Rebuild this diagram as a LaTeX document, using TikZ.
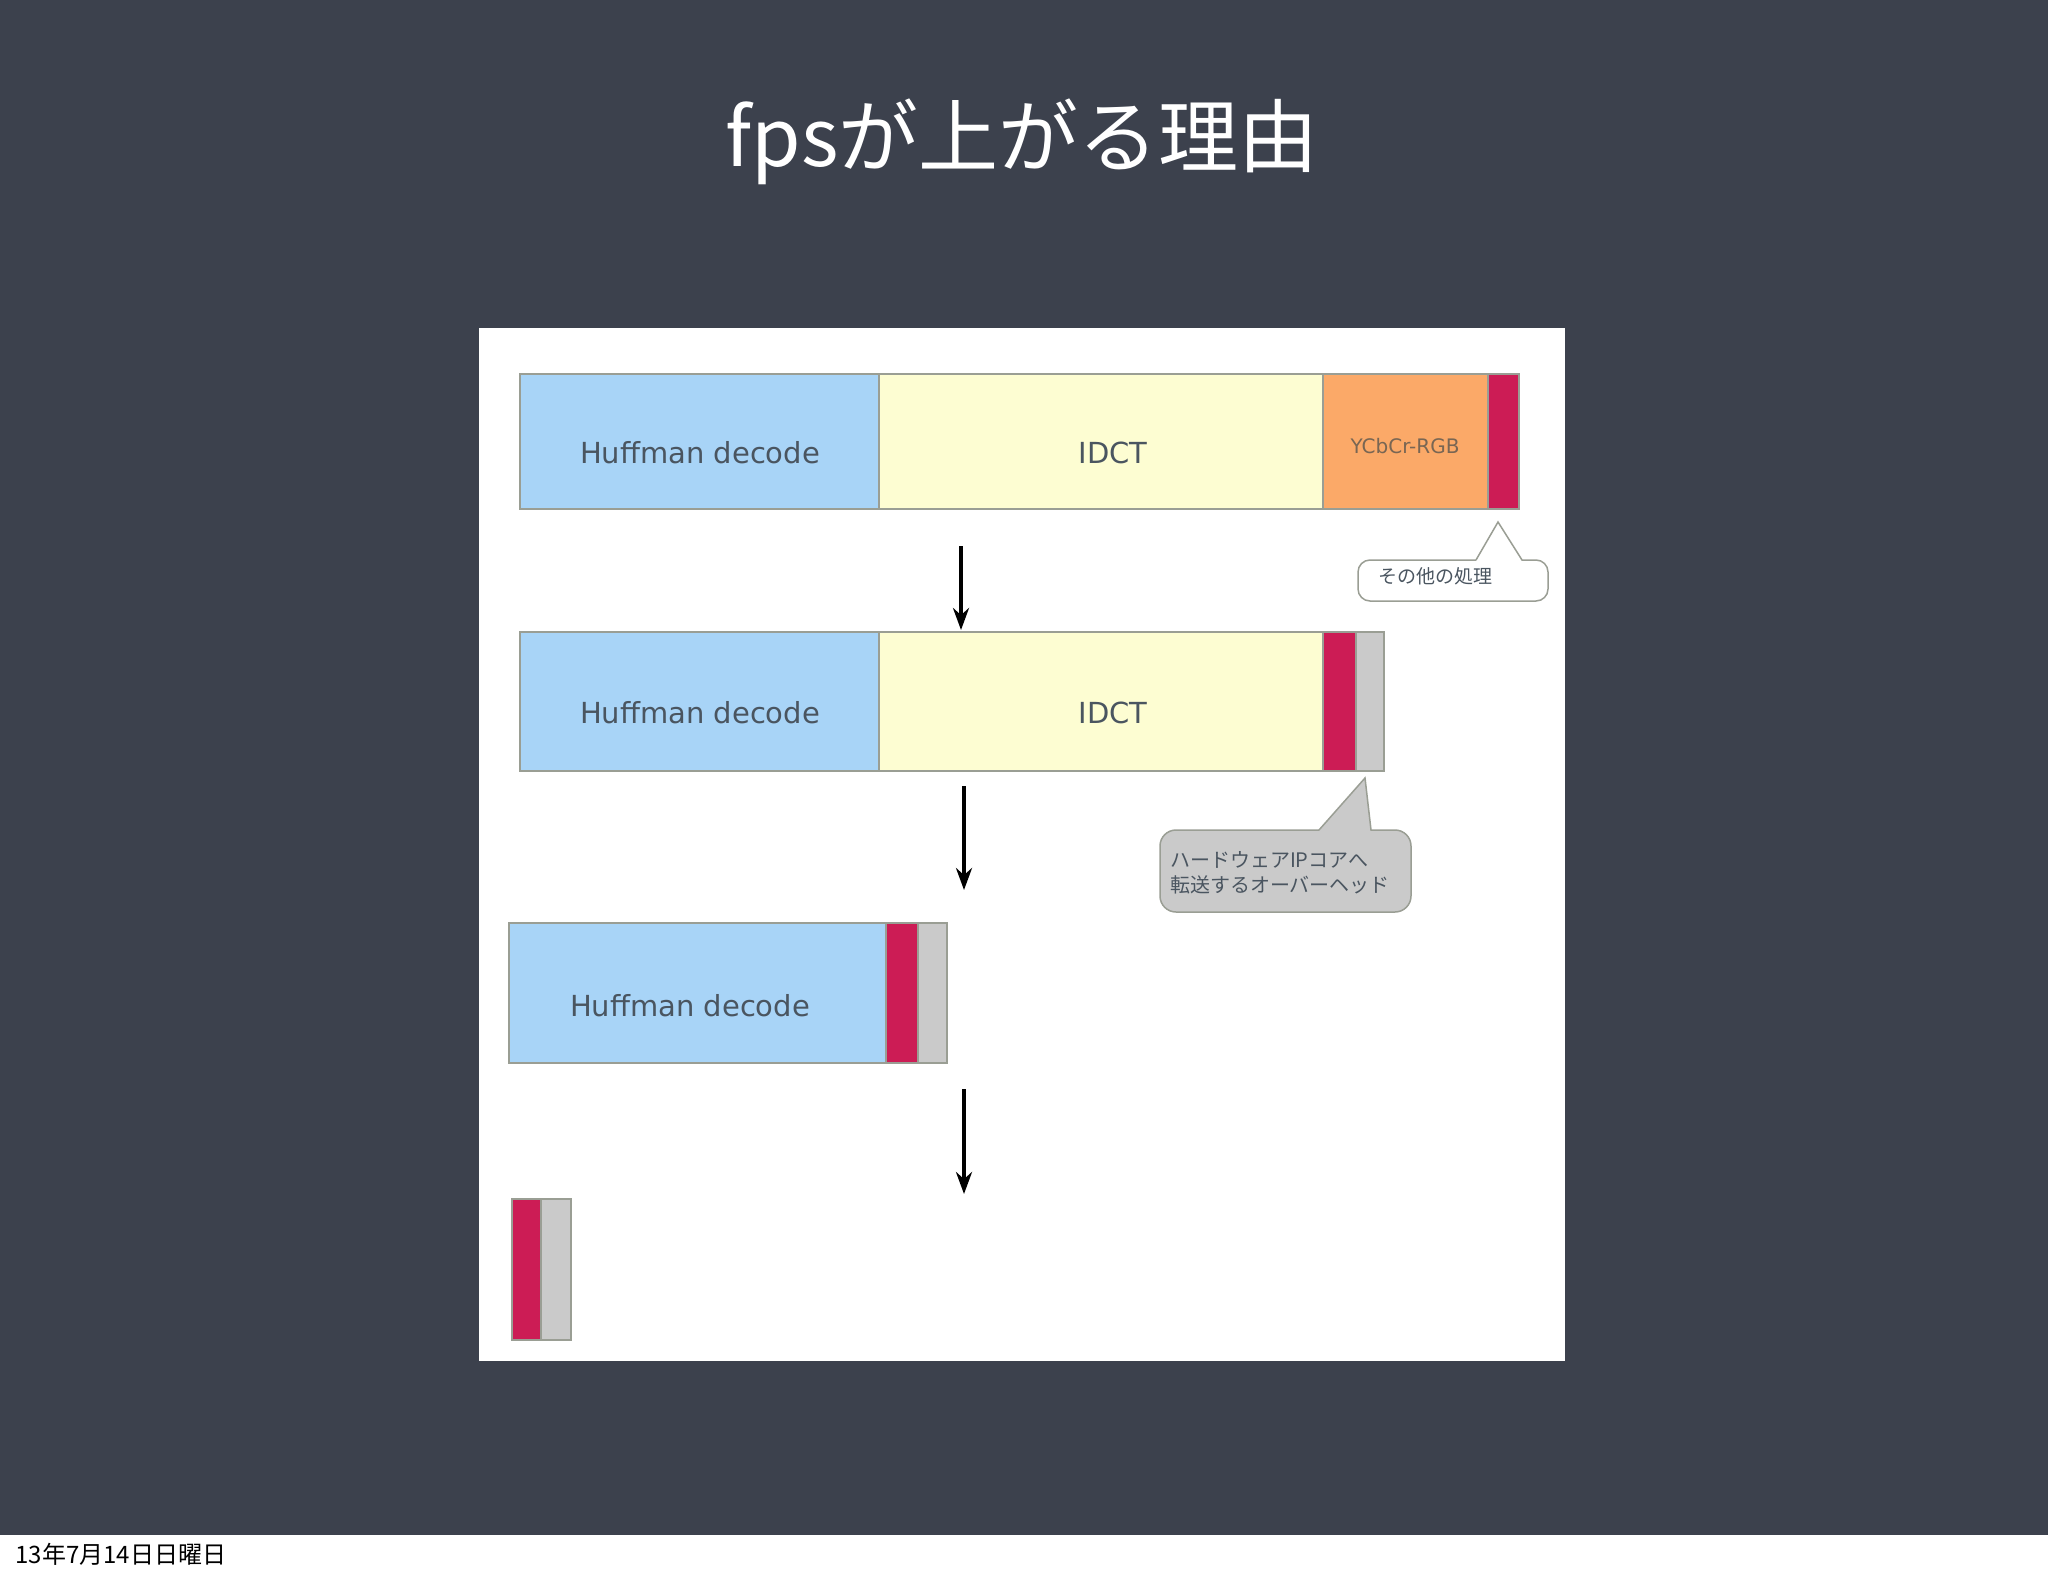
\documentclass[tikz,border=0pt]{standalone}
\usepackage{fontspec}
\usetikzlibrary{arrows.meta}
\setmainfont{DejaVu Sans}
\newfontfamily\cjk{Noto Sans CJK JP}
\definecolor{slate}{HTML}{3C414D}
\definecolor{hblue}{HTML}{A8D4F7}
\definecolor{hyel}{HTML}{FDFDD2}
\definecolor{horange}{HTML}{FBA968}
\definecolor{hred}{HTML}{CC1C55}
\definecolor{hgrey}{HTML}{CACACA}
\definecolor{edge}{HTML}{9A9E94}
\definecolor{txt}{HTML}{4A5560}
\begin{document}
\begin{tikzpicture}[x=1pt,y=-1pt,
  seg/.style={draw=edge,line width=1.5pt},
  lbl/.style={text=txt,font=\fontsize{29}{30}\selectfont},
  arr/.style={line width=4pt,-{Stealth[length=22pt,width=16pt]}},
  call/.style={draw=edge,line width=1.5pt}]
\useasboundingbox (0,0) rectangle (2048,1576);
\fill[slate] (0,0) rectangle (2048,1535);
\fill[white] (0,1535) rectangle (2048,1576);
\node[text=white,font=\cjk\fontsize{80}{82}\selectfont] (title) at (1022,142) {fpsが上がる理由};
\fill[white] (479,328) rectangle (1565,1361);
% bar 1
\draw[seg,fill=hblue] (520,374) rectangle (879,509);
\draw[seg,fill=hyel] (879,374) rectangle (1323,509);
\draw[seg,fill=horange] (1323,374) rectangle (1488,509);
\draw[seg,fill=hred] (1488,374) rectangle (1519,509);
\node[lbl] (h1) at (700,453) {Huffman decode};
\node[lbl] (i1) at (1113,453) {IDCT};
\node[text=txt!60!brown,font=\fontsize{20}{22}\selectfont] (y1) at (1405,446) {YCbCr-RGB};
% callout 1
\draw[call,fill=white] (1476,560) -- (1498,522) -- (1522,560)
  [rounded corners=12pt] -- (1548,560) -- (1548,601) -- (1358,601) -- (1358,560) -- (1476,560);
\node[text=txt,font=\cjk\fontsize{19}{20}\selectfont] (c1) at (1435,576) {その他の処理};
% arrow 1
\coordinate (a1s) at (961,546); \coordinate (a1e) at (961,630);
\draw[arr] (a1s) -- (a1e);
% bar 2
\draw[seg,fill=hblue] (520,632) rectangle (879,771);
\draw[seg,fill=hyel] (879,632) rectangle (1323,771);
\draw[seg,fill=hred] (1323,632) rectangle (1356,771);
\draw[seg,fill=hgrey] (1356,632) rectangle (1384,771);
\node[lbl] (h2) at (700,713) {Huffman decode};
\node[lbl] (i2) at (1113,713) {IDCT};
% callout 2
\draw[call,fill=hgrey] (1319,830) -- (1365,778) -- (1371,830)
  [rounded corners=16pt] -- (1411,830) -- (1411,912) -- (1160,912) -- (1160,830) -- (1319,830);
\node[text=txt,font=\cjk\fontsize{20}{25}\selectfont,align=left] (c2) at (1280,873) {ハードウェアIPコアへ\\転送するオーバーヘッド};
% arrow 2
\coordinate (a2s) at (964,786); \coordinate (a2e) at (964,890);
\draw[arr] (a2s) -- (a2e);
% bar 3
\draw[seg,fill=hblue] (509,923) rectangle (886,1063);
\draw[seg,fill=hred] (886,923) rectangle (918,1063);
\draw[seg,fill=hgrey] (918,923) rectangle (947,1063);
\node[lbl] (h3) at (690,1006) {Huffman decode};
% arrow 3
\coordinate (a3s) at (964,1089); \coordinate (a3e) at (964,1194);
\draw[arr] (a3s) -- (a3e);
% bar 4
\draw[seg,fill=hred] (512,1199) rectangle (541,1340);
\draw[seg,fill=hgrey] (541,1199) rectangle (571,1340);
\node[anchor=west,font=\cjk\fontsize{24}{26}\selectfont] (date) at (12,1554) {13年7月14日日曜日};
\end{tikzpicture}
\end{document}
